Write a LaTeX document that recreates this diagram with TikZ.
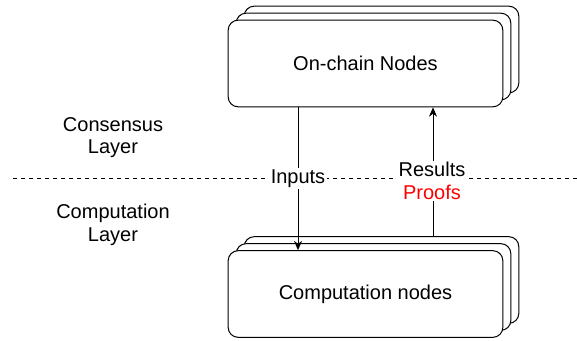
\documentclass[tikz,border=0pt]{standalone}
\usepackage{fontspec}
\setmainfont{Liberation Sans}
\usetikzlibrary{arrows.meta,shadows}

\begin{document}
\begin{tikzpicture}[x=0.75pt,y=-0.75pt,
                    font=\fontsize{15}{17}\selectfont,
                    line width=0.75pt,
                    stack/.style={draw,fill=white,rounded corners=7.5pt,
                            minimum width=206pt,minimum height=65pt,inner sep=0pt,
                            double copy shadow={shadow xshift=6pt,shadow yshift=5.25pt,draw,fill=white}},
                    lbl/.style={fill=white,inner sep=1pt,align=center},
                    layer/.style={align=center,inner sep=0pt},
                    conn/.style={-{Stealth[length=7pt,width=6pt]}}]

                    \useasboundingbox (0,0) rectangle (577,340);

                    % layer boundary
                    \coordinate (left) at (13,178);
                    \coordinate (right) at (577,178);
                    \draw[line width=0.6pt,dash pattern=on 3pt off 3pt] (left) -- (right);

                    \node[layer] (consensus) at (113,137.5) {Consensus\\Layer};
                    \node[layer] (computation) at (113,224.5) {Computation\\Layer};

                    \node[stack] (onchain) at (365.5,63.5) {On-chain Nodes};
                    \node[stack] (workers) at (365.5,294) {Computation nodes};

                    \coordinate (inx) at (298,0);
                    \coordinate (resx) at (433,0);

                    \draw[conn] (onchain.south -| inx) -- node[lbl,pos=.5] (inputs) {Inputs} (workers.north -| inx);
                    \draw[conn] ([yshift=10.5pt]workers.north -| resx) -- (onchain.south -| resx);
                    \node[lbl] (results) at (432,181) {Results\\\textcolor{red}{Proofs}};
                \end{tikzpicture}
\end{document}
